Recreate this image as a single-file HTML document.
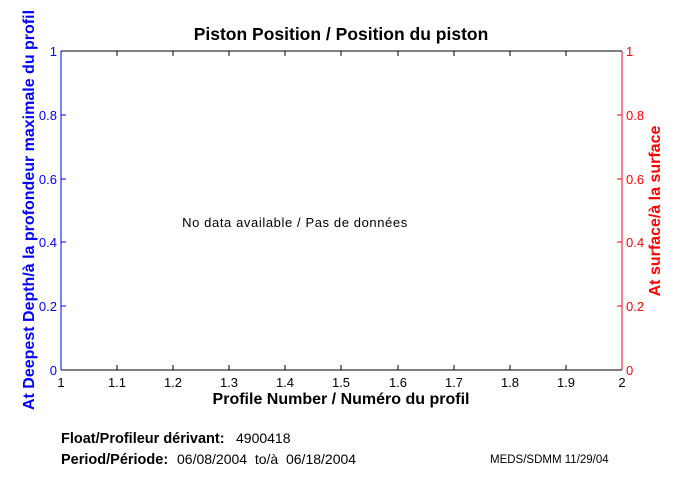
<!DOCTYPE html>
<html><head><meta charset="utf-8"><style>body{margin:0;background:#fff}svg{display:block}</style></head><body>
<svg width="680" height="500" xmlns="http://www.w3.org/2000/svg" font-family="Liberation Sans, sans-serif">
<rect width="680" height="500" fill="#fff"/>
<text x="341" y="40" text-anchor="middle" font-size="17.5" font-weight="bold">Piston Position / Position du piston</text>
<line x1="61" y1="51" x2="622" y2="51" stroke="#000"/>
<line x1="61" y1="370" x2="622" y2="370" stroke="#000"/>
<line x1="61" y1="51" x2="61" y2="370" stroke="#00f"/>
<line x1="622" y1="51" x2="622" y2="370" stroke="#f00"/>
<g stroke="#000">
<line x1="117" y1="370" x2="117" y2="365"/><line x1="117" y1="51" x2="117" y2="56"/>
<line x1="173" y1="370" x2="173" y2="365"/><line x1="173" y1="51" x2="173" y2="56"/>
<line x1="229" y1="370" x2="229" y2="365"/><line x1="229" y1="51" x2="229" y2="56"/>
<line x1="285" y1="370" x2="285" y2="365"/><line x1="285" y1="51" x2="285" y2="56"/>
<line x1="341" y1="370" x2="341" y2="365"/><line x1="341" y1="51" x2="341" y2="56"/>
<line x1="398" y1="370" x2="398" y2="365"/><line x1="398" y1="51" x2="398" y2="56"/>
<line x1="454" y1="370" x2="454" y2="365"/><line x1="454" y1="51" x2="454" y2="56"/>
<line x1="510" y1="370" x2="510" y2="365"/><line x1="510" y1="51" x2="510" y2="56"/>
<line x1="566" y1="370" x2="566" y2="365"/><line x1="566" y1="51" x2="566" y2="56"/>
</g>
<g stroke="#00f"><line x1="61" y1="115" x2="66" y2="115"/><line x1="61" y1="179" x2="66" y2="179"/><line x1="61" y1="242" x2="66" y2="242"/><line x1="61" y1="306" x2="66" y2="306"/></g>
<g stroke="#f00"><line x1="617" y1="115" x2="622" y2="115"/><line x1="617" y1="179" x2="622" y2="179"/><line x1="617" y1="242" x2="622" y2="242"/><line x1="617" y1="306" x2="622" y2="306"/></g>
<g font-size="13" fill="#00f" text-anchor="end">
<text x="57" y="56">1</text><text x="57" y="120">0.8</text><text x="57" y="184">0.6</text><text x="57" y="247">0.4</text><text x="57" y="311">0.2</text><text x="57" y="375">0</text>
</g>
<g font-size="13" fill="#f00">
<text x="626" y="56">1</text><text x="626" y="120">0.8</text><text x="626" y="184">0.6</text><text x="626" y="247">0.4</text><text x="626" y="311">0.2</text><text x="626" y="375">0</text>
</g>
<g font-size="13" text-anchor="middle">
<text x="61" y="387">1</text><text x="117" y="387">1.1</text><text x="173" y="387">1.2</text><text x="229" y="387">1.3</text><text x="285" y="387">1.4</text><text x="341" y="387">1.5</text><text x="398" y="387">1.6</text><text x="454" y="387">1.7</text><text x="510" y="387">1.8</text><text x="566" y="387">1.9</text><text x="622" y="387">2</text>
</g>
<text x="341" y="404" text-anchor="middle" font-size="16" font-weight="bold">Profile Number / Numéro du profil</text>
<text x="295" y="227" text-anchor="middle" font-size="13" letter-spacing="0.6">No data available / Pas de données</text>
<text transform="translate(34,210) rotate(-90)" text-anchor="middle" font-size="16" font-weight="bold" fill="#00f">At Deepest Depth/à la profondeur maximale du profil</text>
<text transform="translate(660,211) rotate(-90)" text-anchor="middle" font-size="16" font-weight="bold" fill="#f00">At surface/à la surface</text>
<text x="61" y="443" font-size="14.5" font-weight="bold">Float/Profileur dérivant:</text>
<text x="236" y="443" font-size="14">4900418</text>
<text x="61" y="464" font-size="14.5" font-weight="bold">Period/Période:</text>
<text x="177" y="464" font-size="14" xml:space="preserve">06/08/2004  to/à  06/18/2004</text>
<text x="490" y="463" font-size="11.5">MEDS/SDMM  11/29/04</text>
</svg>
</body></html>
